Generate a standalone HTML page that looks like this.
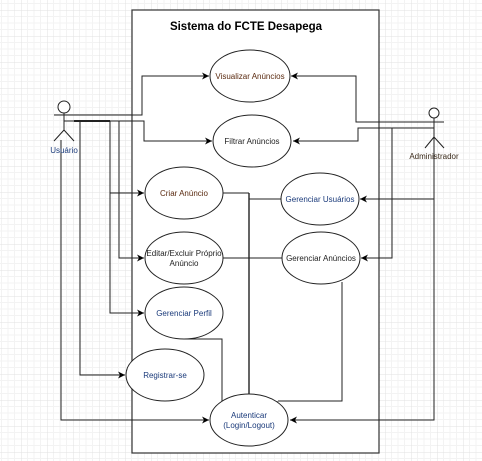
<!DOCTYPE html>
<html><head><meta charset="utf-8"><style>
html,body{margin:0;padding:0;background:#fff;}
svg{display:block;}
text{font-family:"Liberation Sans",Arial,sans-serif;font-size:8px;fill:#222;text-anchor:middle;}
</style></head><body>
<svg width="482" height="461" viewBox="0 0 482 461" xmlns="http://www.w3.org/2000/svg">
<defs>
<pattern id="g" x="21" y="10" width="26" height="26" patternUnits="userSpaceOnUse">
<path d="M6.5 0V26M13 0V26M19.5 0V26M0 6.5H26M0 13H26M0 19.5H26" stroke="#f3f3f3" stroke-width="1"/>
<path d="M0 0V26M0 0H26" stroke="#e2e2e2" stroke-width="1"/>
</pattern>
<marker id="a" markerWidth="8" markerHeight="8" refX="7" refY="4" orient="auto" markerUnits="userSpaceOnUse">
<path d="M0,0.5 L7,4 L0,7.5 L2,4 Z" fill="#000"/>
</marker>
</defs>
<rect width="482" height="461" fill="url(#g)"/>
<rect x="132" y="10" width="247" height="443" fill="#fff" stroke="#333" stroke-width="1.2"/>
<text x="246" y="30" style="font-size:11.5px;font-weight:bold;fill:#000">Sistema do FCTE Desapega</text>

<g fill="none" stroke="#222" stroke-width="1">
<polyline points="54,115 142,115 142,76 209,76" marker-end="url(#a)"/>
<polyline points="64,121 144,121 144,141 212,141" marker-end="url(#a)"/>
<polyline points="80,121 80,375 125,375" marker-end="url(#a)"/>
<polyline points="110,121 110,193 144,193" marker-end="url(#a)"/>
<polyline points="110,193 110,313 144,313" marker-end="url(#a)"/>
<polyline points="119,121 119,258 144,258" marker-end="url(#a)"/>
<polyline points="61,140 61,420 209,420" marker-end="url(#a)"/>
<line x1="74" y1="121" x2="110" y2="121" stroke-width="2"/>
<polyline points="444,122 356,122 356,76 291,76" marker-end="url(#a)"/>
<polyline points="434,128 358,128 358,141 293,141" marker-end="url(#a)"/>
<polyline points="392,128 392,258 361,258" marker-end="url(#a)"/>
<polyline points="434,199 360,199" marker-end="url(#a)"/>
<polyline points="434,135 434,420 290,420" marker-end="url(#a)"/>
<polyline points="223,193 249,193"/>
<line x1="249" y1="193" x2="249" y2="394" stroke-width="1.4"/>
<line x1="249" y1="199" x2="282" y2="199"/>
<line x1="223" y1="258" x2="282" y2="258"/>
<polyline points="342,282 342,401 278,401"/>
<line x1="249" y1="402" x2="278" y2="402" stroke="#555" stroke-width="1.5"/>
<polyline points="184,339 222,339 222,401"/>
</g>

<g fill="none" stroke="#222" stroke-width="1">
<circle cx="64" cy="107" r="6" fill="#fff"/>
<line x1="64" y1="113" x2="64" y2="130"/>
<line x1="54" y1="115" x2="74" y2="115"/>
<line x1="64" y1="130" x2="54" y2="141"/>
<line x1="64" y1="130" x2="74" y2="141"/>
<circle cx="434" cy="113" r="5" fill="#fff"/>
<line x1="434" y1="118" x2="434" y2="137"/>
<line x1="424" y1="122" x2="444" y2="122"/>
<line x1="434" y1="137" x2="425" y2="148"/>
<line x1="434" y1="137" x2="444" y2="148"/>
</g>
<text x="64" y="153" style="fill:#1a3a7a">Usuário</text>
<text x="434" y="159" style="fill:#3a2a1a">Administrador</text>

<g fill="#fff" stroke="#222" stroke-width="1">
<ellipse cx="250" cy="76" rx="40" ry="26"/>
<ellipse cx="252" cy="141" rx="39" ry="26"/>
<ellipse cx="184" cy="193" rx="39" ry="26"/>
<ellipse cx="184" cy="258" rx="39" ry="26"/>
<ellipse cx="320" cy="199" rx="39" ry="26"/>
<ellipse cx="321" cy="258" rx="39" ry="26"/>
<ellipse cx="184" cy="313" rx="39" ry="26"/>
<ellipse cx="165" cy="375" rx="39" ry="26"/>
<ellipse cx="249" cy="420" rx="39" ry="26"/>
</g>
<text x="250" y="79" style="fill:#5a2a10">Visualizar Anúncios</text>
<text x="252" y="144">Filtrar Anúncios</text>
<text x="184" y="196" style="fill:#5a2a10">Criar Anúncio</text>
<text x="184" y="256">Editar/Excluir Próprio</text>
<text x="184" y="266">Anúncio</text>
<text x="320" y="202" style="fill:#1a3a7a">Gerenciar Usuários</text>
<text x="321" y="261">Gerenciar Anúncios</text>
<text x="184" y="316" style="fill:#1a3a7a">Gerenciar Perfil</text>
<text x="165" y="378" style="fill:#1a3a7a">Registrar-se</text>
<text x="249" y="418" style="fill:#1a3a7a">Autenticar</text>
<text x="249" y="428" style="fill:#1a3a7a">(Login/Logout)</text>
</svg>
</body></html>
